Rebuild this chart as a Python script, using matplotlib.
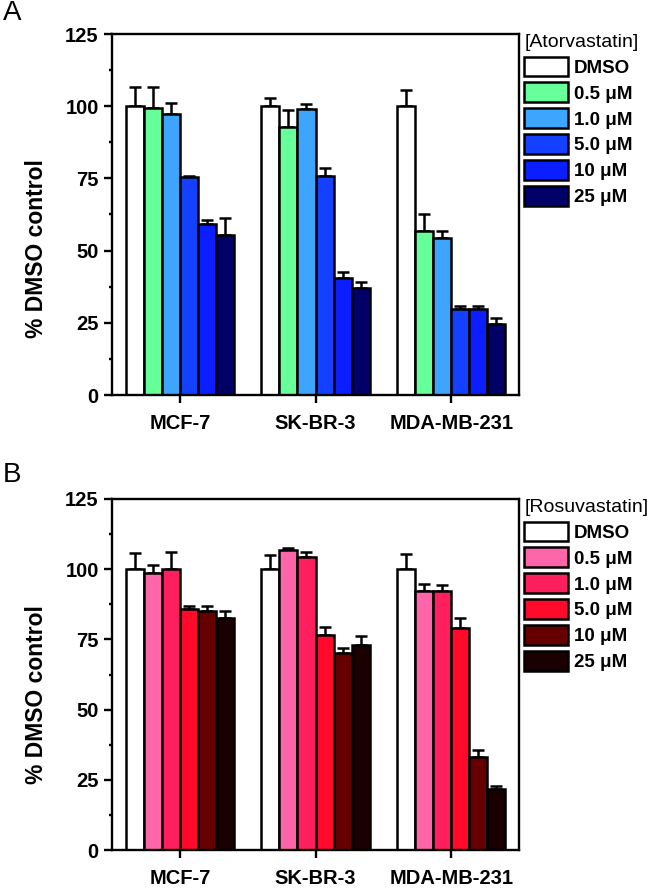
import matplotlib
matplotlib.use("Agg")
import matplotlib.pyplot as plt
import numpy as np
from matplotlib.ticker import MultipleLocator

plt.rcParams['font.family'] = ['Liberation Sans', 'DejaVu Sans']

cell_lines = ["MCF-7", "SK-BR-3", "MDA-MB-231"]
doses = ["DMSO", "0.5 μM", "1.0 μM", "5.0 μM", "10 μM", "25 μM"]

# Panel A: Atorvastatin, values[dose][cell line]
atorva_vals = [
    [100.0, 100.0, 100.0],
    [99.3, 92.9, 56.9],
    [97.3, 98.9, 54.4],
    [75.6, 75.8, 29.7],
    [59.3, 40.4, 29.7],
    [55.4, 37.2, 24.5],
]
atorva_err = [
    [6.8, 2.7, 5.6],
    [7.4, 5.7, 5.7],
    [3.7, 2.0, 2.4],
    [0.4, 2.7, 1.2],
    [1.2, 2.1, 1.2],
    [5.9, 1.8, 2.3],
]
atorva_colors = ["#FFFFFF", "#66FF99", "#3EA5FF", "#1440FF", "#0A1EFF", "#000066"]

# Panel B: Rosuvastatin
rosuva_vals = [
    [100.0, 100.0, 100.0],
    [98.5, 106.8, 92.2],
    [100.0, 104.3, 92.2],
    [86.0, 76.7, 79.0],
    [85.2, 70.2, 33.0],
    [82.6, 73.0, 21.7],
]
rosuva_err = [
    [5.9, 5.0, 5.4],
    [3.0, 0.6, 2.7],
    [6.0, 1.9, 2.0],
    [1.0, 2.8, 3.6],
    [1.8, 1.6, 2.7],
    [2.4, 3.3, 1.2],
]
rosuva_colors = ["#FFFFFF", "#FF66AA", "#FF1F5F", "#FF0A2A", "#660000", "#1A0000"]

W, H = 661, 888
fig = plt.figure(figsize=(W / 100, H / 100), dpi=100)
axA = fig.add_axes([112 / W, 1 - 395 / H, 407 / W, 361 / H])
axB = fig.add_axes([112 / W, 1 - 850 / H, 407 / W, 351 / H])


def draw(ax, vals, errs, colors, title, panel, panel_y, label_y):
    n = len(doses)
    width = 0.8 / n
    x = np.arange(len(cell_lines))
    handles = []
    for i in range(n):
        xi = x - 0.4 + width * (i + 0.5)
        b = ax.bar(xi, vals[i], width, color=colors[i], edgecolor="black",
                   linewidth=1.8, label=doses[i], zorder=2)
        handles.append(b)
        ax.errorbar(xi, vals[i], yerr=[np.zeros(len(x)), errs[i]], fmt="none",
                    ecolor="black", elinewidth=1.8, capsize=4.5, capthick=1.8,
                    zorder=1)
    ax.set_xlim(-0.5, 2.5)
    ax.set_ylim(0, 125)
    ax.set_xticks(x)
    ax.set_xticklabels(cell_lines, fontsize=14.5, fontweight="bold")
    ax.yaxis.set_major_locator(MultipleLocator(25))
    ax.yaxis.set_minor_locator(MultipleLocator(12.5))
    for lbl in ax.get_yticklabels():
        lbl.set_fontweight("bold")
        lbl.set_fontsize(14.5)
    ax.tick_params(axis="both", which="major", direction="out", length=5.5,
                   width=1.7, pad=4)
    ax.tick_params(axis="y", which="minor", direction="out", length=2.5, width=1.7)
    ax.tick_params(axis="x", which="major", pad=8)
    for s in ax.spines.values():
        s.set_linewidth(1.7)
    fig.text(37 / W, 1 - label_y / H, "% DMSO control", rotation=90,
             fontsize=16.5, fontweight="bold", ha="center", va="center")
    ax.legend(handles=handles, loc="upper left", bbox_to_anchor=(1.013, 1.0),
              frameon=False, title=title, alignment="left",
              prop={"size": 13.5, "weight": "bold"},
              title_fontproperties={"size": 14},
              handlelength=2.35, handleheight=1.25, labelspacing=0.3,
              handletextpad=0.3, borderaxespad=0.0, borderpad=0.0)
    fig.text(3 / W, 1 - panel_y / H, panel, fontsize=20, ha="left", va="center")


draw(axA, atorva_vals, atorva_err, atorva_colors, "[Atorvastatin]", "A", 13, 249)
draw(axB, rosuva_vals, rosuva_err, rosuva_colors, "[Rosuvastatin]", "B", 475, 695)

fig.savefig("out.png", dpi=100)
